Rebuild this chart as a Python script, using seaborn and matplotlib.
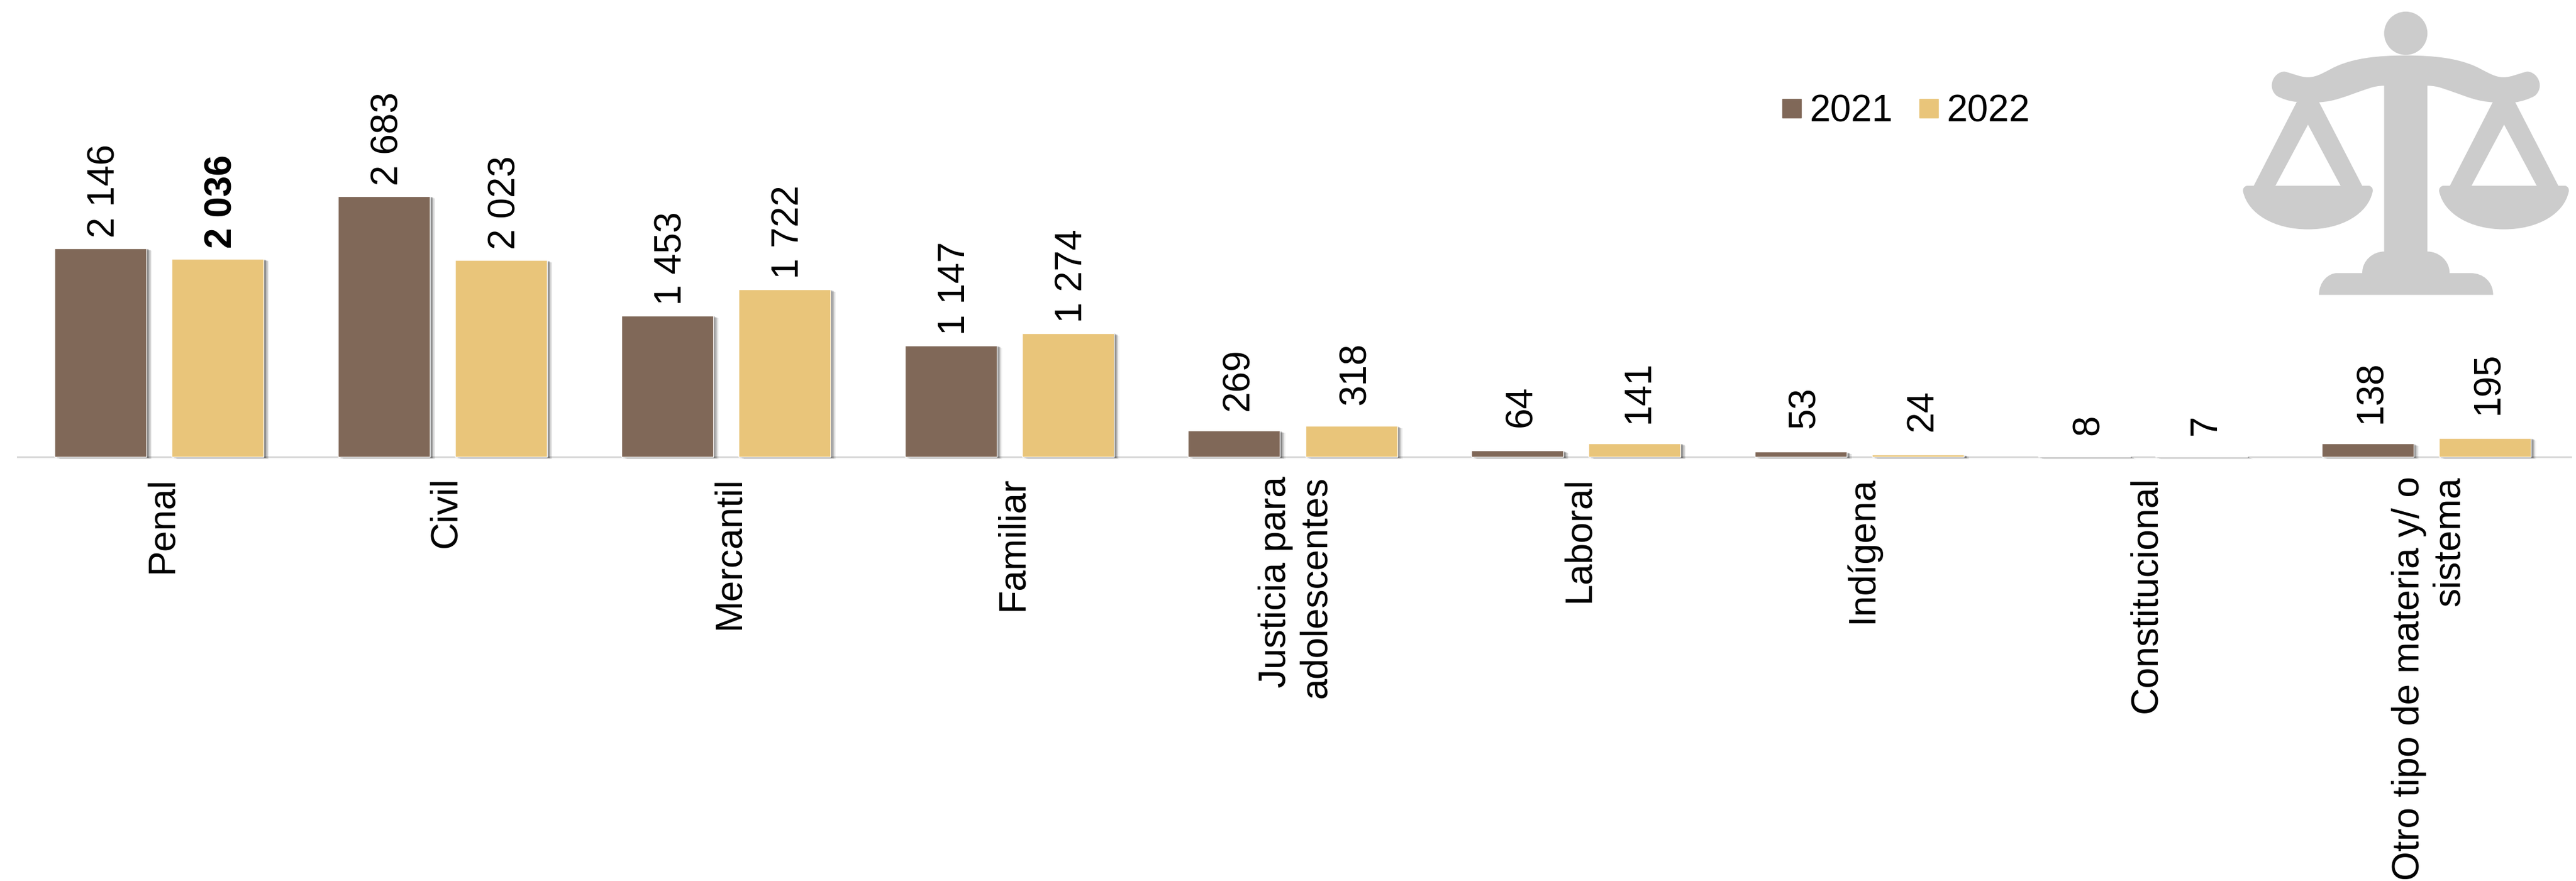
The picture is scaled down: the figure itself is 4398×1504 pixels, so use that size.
import numpy as np
import pandas as pd
import matplotlib
matplotlib.use("Agg")
import matplotlib.pyplot as plt
import matplotlib.patheffects as pe
from matplotlib.patches import PathPatch, Ellipse
from matplotlib.path import Path
from matplotlib.transforms import ScaledTranslation
import seaborn as sns

categories = ["Penal", "Civil", "Mercantil", "Familiar", "Justicia para\nadolescentes",
              "Laboral", "Indígena", "Constitucional", "Otro tipo de materia y/ o\nsistema"]
values_2021 = [2146, 2683, 1453, 1147, 269, 64, 53, 8, 138]
values_2022 = [2036, 2023, 1722, 1274, 318, 141, 24, 7, 195]
years = ["2021", "2022"]
colors = ["#806858", "#E9C57A"]
label_pad_2021 = [18, 18, 18, 18, 34, 40, 40, 36, 34]
label_pad_2022 = [18, 18, 18, 18, 36, 34, 40, 36, 40]

W, H = 4398, 1504
sns.set_theme(style="white")
plt.rcParams['font.family'] = ['Liberation Sans', 'DejaVu Sans']
fig = plt.figure(figsize=(W / 100, H / 100), dpi=100, facecolor="white")
base_y = 780
ax = fig.add_axes([30 / W, (H - base_y) / H, 4354 / W, base_y / H])

df = pd.DataFrame({
    "cat": categories * 2,
    "year": [years[0]] * len(categories) + [years[1]] * len(categories),
    "v": values_2021 + values_2022,
})
sns.barplot(data=df, x="cat", y="v", hue="year", order=categories, hue_order=years,
            palette=colors, width=0.827, gap=0.215, saturation=1, legend=False, ax=ax)
ax.set_xlim(-0.5, len(categories) - 0.5)
ax.set_ylim(0, base_y / 0.166)
ax.set_xlabel("")
ax.set_ylabel("")
ax.set_yticks([])
ax.patch.set_alpha(0)
for s in ["top", "left", "right"]:
    ax.spines[s].set_visible(False)
ax.spines["bottom"].set_color("#D9D9D9")
ax.spines["bottom"].set_linewidth(2.2)
ax.spines["bottom"].set_zorder(0.5)
ax.spines["bottom"].set_bounds(-0.5, len(categories) - 0.49)
ax.tick_params(axis="x", length=0, pad=24)
ax.set_xticks(range(len(categories)))
ax.set_xticklabels(categories, rotation=90, fontsize=46.3, color="black",
                   ha="center", va="top", multialignment="right", linespacing=1.18)
shift = ScaledTranslation(4 / 72, 0, fig.dpi_scale_trans)
for t in ax.get_xticklabels():
    t.set_transform(t.get_transform() + shift)

shadow = [pe.SimplePatchShadow(offset=(o, -o * 0.45), shadow_rgbFace="#000000", alpha=a)
          for o, a in ((6.5, 0.05), (5.5, 0.07), (4.5, 0.10), (3.5, 0.13), (2.5, 0.15), (1.5, 0.15))] + [pe.Normal()]
for cont, pads in zip(ax.containers, [label_pad_2021, label_pad_2022]):
    for b in cont:
        b.set_path_effects(shadow)
        b.set_clip_on(False)
    for b, p in zip(cont, pads):
        v = int(round(b.get_height()))
        ax.annotate(f"{v:,}".replace(",", " "),
                    (b.get_x() + b.get_width() / 2, v),
                    xytext=(5, p * 0.72), textcoords="offset points",
                    rotation=90, ha="center", va="bottom", fontsize=46, color="black",
                    fontweight="bold" if v == 2036 else "normal")

# legend
for c, lab, mx, tx in zip(colors, years, [3043, 3277], [3090, 3324]):
    fig.patches.append(plt.Rectangle((mx / W, 1 - 201 / H), 32 / W, 32 / H, color=c,
                                     transform=fig.transFigure))
    fig.text(tx / W, 1 - 184 / H, lab, fontsize=46, color="black", va="center_baseline", ha="left")

# decorative scale icon, drawn in pixel coordinates of the figure
icon = fig.add_axes([0, 0, 1, 1], zorder=-1)
icon.set_xlim(0, W)
icon.set_ylim(H, 0)
icon.axis("off")
G = "#CCCCCC"
def px(zx, zy):
    return (3700 + zx / 2.246, zy / 2.904)
icon.add_patch(Ellipse(px(915, 165), 74, 74, color=G, lw=0))
def shape(cmds, fill=G):
    verts, codes = [], []
    for c, pts in cmds:
        if c == "M":
            verts.append(px(*pts[0])); codes.append(Path.MOVETO)
        elif c == "L":
            for p in pts:
                verts.append(px(*p)); codes.append(Path.LINETO)
        elif c == "C":
            for p in pts:
                verts.append(px(*p)); codes.append(Path.CURVE4)
    verts.append(verts[0]); codes.append(Path.CLOSEPOLY)
    icon.add_patch(PathPatch(Path(verts, codes), facecolor=fill, edgecolor="none", lw=0))

# beam, post and base
shape([("M", [(915, 275)]),
       ("C", [(1030, 275), (1110, 290), (1175, 325)]),
       ("C", [(1220, 350), (1250, 383), (1290, 383)]),
       ("C", [(1320, 383), (1345, 365), (1380, 355)]),
       ("C", [(1420, 355), (1450, 430), (1410, 475)]),
       ("C", [(1390, 490), (1360, 503), (1335, 507)]),
       ("L", [(1250, 507)]),
       ("C", [(1190, 503), (1150, 480), (1110, 462)]),
       ("C", [(1070, 445), (1040, 425), (998, 425)]),
       ("L", [(998, 1247)]),
       ("C", [(1040, 1247), (1083, 1290), (1083, 1354)]),
       ("L", [(1165, 1354)]),
       ("C", [(1210, 1354), (1250, 1395), (1250, 1462)]),
       ("L", [(582, 1462)]),
       ("C", [(582, 1395), (620, 1354), (650, 1354)]),
       ("L", [(748, 1354)]),
       ("C", [(748, 1290), (790, 1247), (832, 1247)]),
       ("L", [(832, 425)]),
       ("C", [(790, 425), (760, 445), (720, 462)]),
       ("C", [(680, 480), (640, 503), (582, 507)]),
       ("L", [(497, 505)]),
       ("C", [(470, 503), (440, 490), (420, 475)]),
       ("C", [(380, 430), (410, 355), (450, 355)]),
       ("C", [(485, 365), (510, 383), (540, 383)]),
       ("C", [(580, 383), (610, 350), (655, 325)]),
       ("C", [(720, 290), (800, 275), (915, 275)])])
# pans with triangular hangers
for dx in (0, 752):
    shape([("M", [(497 + dx, 505)]), ("L", [(582 + dx, 505), (748 + dx, 921), (775 + dx, 921)]),
           ("C", [(785 + dx, 925), (790 + dx, 935), (788 + dx, 950)]),
           ("C", [(770 + dx, 1060), (670 + dx, 1137), (540 + dx, 1137)]),
           ("C", [(410 + dx, 1137), (310 + dx, 1060), (291 + dx, 950)]),
           ("C", [(289 + dx, 935), (295 + dx, 925), (305 + dx, 921)]),
           ("L", [(332 + dx, 921), (497 + dx, 505)])])
    shape([("M", [(540 + dx, 618)]), ("L", [(665 + dx, 921), (415 + dx, 921), (540 + dx, 618)])],
          fill="white")
fig.savefig("out.png", dpi=100, facecolor="white")
